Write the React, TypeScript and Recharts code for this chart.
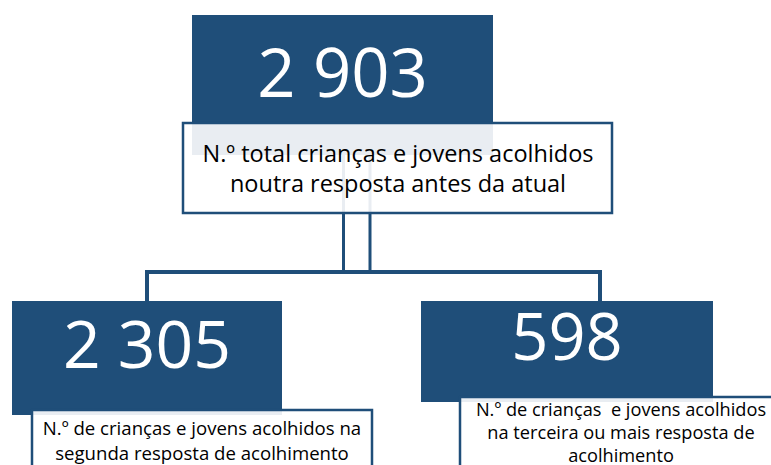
import React from 'react';
import { ScatterChart, Scatter, XAxis, YAxis, ReferenceLine, Rectangle } from 'recharts';

// node values and labels
const nodeIds = ['total', 'segunda', 'terceira'];
const nodeValues = [2903, 2305, 598];
const nodeLabels = [
  ['N.º total crianças e jovens acolhidos', 'noutra resposta antes da atual'],
  ['N.º de crianças e jovens acolhidos na', 'segunda resposta de acolhimento'],
  ['N.º de crianças  e jovens acolhidos', 'na terceira ou mais resposta de', 'acolhimento'],
];

const W = 771;
const H = 465;
const DARK = '#1F4E79';
const FONT = '"Open Sans", sans-serif';

// layout of each node (box centre + box sizes, label box relative to centre)
const layout = [
  { x: 342.5, y: 85, w: 301, h: 140, numDy: 12, numSize: 67, lab: { dx: -159.5, dy: 38, w: 429, h: 90 }, labCx: 55.5, labDy: 77, lineH: 30, labSize: 23.5 },
  { x: 147, y: 358, w: 270, h: 114, numDy: 10, numSize: 66, lab: { dx: -115, dy: 52, w: 340, h: 80 }, labCx: 55, labDy: 77, lineH: 25, labSize: 18.6 },
  { x: 567, y: 351.5, w: 292, h: 101, numDy: 8.5, numSize: 65, lab: { dx: -107, dy: 45.5, w: 340, h: 90 }, labCx: 54, labDy: 64.5, lineH: 23, labSize: 18.2 },
];

const fmt = (v: number) => String(v).replace(/\B(?=(\d{3})+(?!\d))/g, ' ');

const nodes = nodeIds.map((id, i) => ({
  id,
  value: nodeValues[i],
  label: nodeLabels[i],
  x: layout[i].x,
  y: layout[i].y,
  l: layout[i],
}));

const NodeShape = (props: any) => {
  const { cx, cy, payload } = props;
  const l = payload.l;
  return (
    <g>
      <Rectangle x={cx - l.w / 2} y={cy - l.h / 2} width={l.w} height={l.h} fill={DARK} />
      <text x={cx} y={cy + l.numDy} textAnchor="middle" fill="#fff" fontSize={l.numSize} fontFamily={FONT}>
        {fmt(payload.value)}
      </text>
      <Rectangle
        x={cx + l.lab.dx}
        y={cy + l.lab.dy}
        width={l.lab.w}
        height={l.lab.h}
        fill="#fff"
        fillOpacity={0.9}
        stroke={DARK}
        strokeWidth={2.5}
      />
      <text textAnchor="middle" fill="#000" fontSize={l.labSize} fontFamily={FONT}>
        {payload.label.map((s: string, k: number) => (
          <tspan key={k} x={cx + l.labCx} y={cy + l.labDy + k * l.lineH} style={{ whiteSpace: 'pre' }}>
            {s}
          </tspan>
        ))}
      </text>
    </g>
  );
};

export default function App() {
  return (
    <div style={{ position: 'absolute', left: 0, top: 0, background: '#fff' }}>
      <ScatterChart width={W} height={H} margin={{ top: 0, right: 0, bottom: 0, left: 0 }}>
        <XAxis type="number" dataKey="x" domain={[0, W]} allowDataOverflow hide />
        <YAxis type="number" dataKey="y" domain={[0, H]} allowDataOverflow reversed hide />
        <ReferenceLine segment={[{ x: 343.5, y: 140 }, { x: 343.5, y: 274 }]} stroke={DARK} strokeWidth={3} ifOverflow="visible" />
        <ReferenceLine segment={[{ x: 370, y: 140 }, { x: 370, y: 274 }]} stroke={DARK} strokeWidth={3} ifOverflow="visible" />
        <ReferenceLine segment={[{ x: 145, y: 272 }, { x: 602, y: 272 }]} stroke={DARK} strokeWidth={4} ifOverflow="visible" />
        <ReferenceLine segment={[{ x: 147, y: 270 }, { x: 147, y: 302 }]} stroke={DARK} strokeWidth={4} ifOverflow="visible" />
        <ReferenceLine segment={[{ x: 600, y: 270 }, { x: 600, y: 302 }]} stroke={DARK} strokeWidth={4} ifOverflow="visible" />
        <Scatter data={nodes} shape={NodeShape} isAnimationActive={false} />
      </ScatterChart>
    </div>
  );
}
